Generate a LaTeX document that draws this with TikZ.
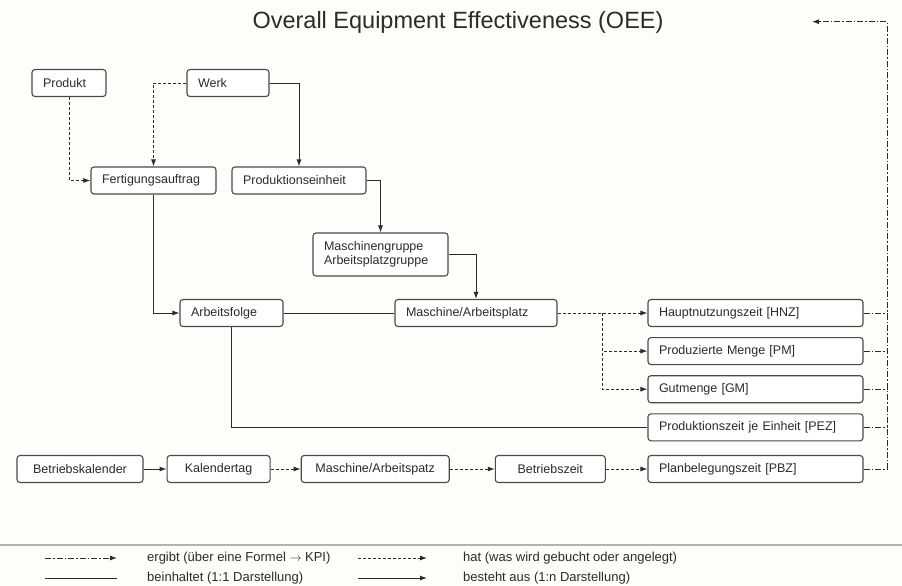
\documentclass[tikz,border=0pt]{standalone}
\usepackage{fontspec}
\setmainfont{Liberation Sans}
\usepackage{tikz}
\usetikzlibrary{positioning}
\usetikzlibrary{arrows.meta}
\definecolor{boxline}{HTML}{4A4A4A}
\definecolor{ink}{HTML}{2B2B2B}
\definecolor{paper}{HTML}{FDFDFA}

\begin{document}
\begin{tikzpicture}[x=1pt, y=-1pt, >={Latex[length=7pt,width=5pt]},
    box/.style={draw=boxline, line width=1.1pt, rounded corners=3pt, fill=white, text=ink,
        inner xsep=11pt, inner ysep=2pt, minimum height=27pt, align=left,
        font=\fontsize{12.5}{14.5}\selectfont},
    cbox/.style={box, align=center},
    hat/.style={->, draw=ink, line width=0.9pt, dash pattern=on 3pt off 2pt},
    besteht/.style={->, draw=ink, line width=0.9pt},
    beinhaltet/.style={draw=ink, line width=0.9pt},
    ergibt/.style={draw=ink, line width=0.9pt, dash pattern=on 6pt off 2pt on 1.5pt off 2pt},
    legend/.style={anchor=west, text=ink, inner sep=0pt, font=\fontsize{13}{15}\selectfont}]
    \fill[paper] (0,0) rectangle (902,586);
    \useasboundingbox (0,0) rectangle (902,586);

    \node[text=ink, font=\fontsize{23.5}{27}\selectfont] (title) at (458,22) {Overall Equipment Effectiveness (OEE)};

    % upper part
    \node[box, text width=52pt] (produkt) at (69,83) {Produkt};
    \node[box, text width=60pt] (werk) at (228,83) {Werk};
    \node[box, text width=103pt] (fauftrag) at (153.5,180.5) {Fertigungsauftrag};
    \node[box, text width=112pt] (peinheit) at (299,180.5) {Produktionseinheit};
    \node[box, text width=113pt, minimum height=43pt] (mgruppe) at (380.5,254.5) {Maschinengruppe\\Arbeitsplatzgruppe};
    \node[box, text width=81pt] (afolge) at (231.5,313) {Arbeitsfolge};
    \node[box, text width=140pt] (map) at (476,313) {Maschine/Arbeitsplatz};

    % kennzahlen
    \node[box, text width=193pt] (hnz) at (755.5,313) {Hauptnutzungszeit [HNZ]};
    \node[box, text width=193pt, below=10pt of hnz] (pm) {Produzierte Menge [PM]};
    \node[box, text width=193pt, below=10pt of pm] (gm) {Gutmenge [GM]};
    \node[box, text width=193pt, below=10pt of gm] (pez) {Produktionszeit je Einheit [PEZ]};
    \node[box, text width=193pt] (pbz) at (755.5,469) {Planbelegungszeit [PBZ]};

    % kalender
    \node[cbox, text width=104pt] (bkal) at (80,469) {Betriebskalender};
    \node[cbox, text width=81pt, right=23pt of bkal] (ktag) {Kalendertag};
    \node[cbox, text width=126pt, right=30pt of ktag] (mapb) {Maschine/Arbeitspatz};
    \node[cbox, text width=88pt, right=45pt of mapb] (bzeit) {Betriebszeit};

    \draw[hat] (produkt.south) |- (fauftrag.west);
    \draw[hat] (werk.west) -| (fauftrag.north);
    \draw[besteht] (werk.east) -| (peinheit.north);
    \draw[besteht] (peinheit.east) -| (mgruppe.north);
    \draw[besteht] (mgruppe.east) -| (map.north);
    \draw[besteht] (fauftrag.south) |- (afolge.west);
    \draw[beinhaltet] (afolge.east) -- (map.west);
    \draw[beinhaltet] (afolge.south) |- (pez.west);

    \coordinate (split) at (602,313);
    \draw[hat] (map.east) -- (hnz.west);
    \draw[hat] (split) |- (pm.west);
    \draw[hat] (split) |- (gm.west);

    \draw[besteht] (bkal) -- (ktag);
    \draw[hat] (ktag) -- (mapb);
    \draw[hat] (mapb) -- (bzeit);
    \draw[hat] (bzeit) -- (pbz);

    % ruecklauf zur OEE
    \coordinate (kpi) at (812,21.7);
    \coordinate (rail) at (887,21.7);
    \foreach \n in {hnz,pm,gm,pez}
        \draw[ergibt] (\n.east) -- (\n.east -| rail);
    \draw[ergibt, ->] (pbz.east) -| (rail) -- (kpi);

    % legende
    \draw[gray!60, line width=1.5pt] (0,545) -- (902,545);
    \node[legend] (lg1) at (147,558) {ergibt (über eine Formel $\rightarrow$ KPI)};
    \node[legend] (lg2) at (463,558) {hat (was wird gebucht oder angelegt)};
    \node[legend] (lg3) at (147,578) {beinhaltet (1:1 Darstellung)};
    \node[legend] (lg4) at (463,578) {besteht aus (1:n Darstellung)};
    \draw[ergibt, ->] ([xshift=-102pt]lg1.west) -- ([xshift=-30pt]lg1.west);
    \draw[hat] ([xshift=-105pt]lg2.west) -- ([xshift=-36pt]lg2.west);
    \draw[beinhaltet] ([xshift=-102pt]lg3.west) -- ([xshift=-30pt]lg3.west);
    \draw[besteht] ([xshift=-105pt]lg4.west) -- ([xshift=-36pt]lg4.west);
\end{tikzpicture}
\end{document}
